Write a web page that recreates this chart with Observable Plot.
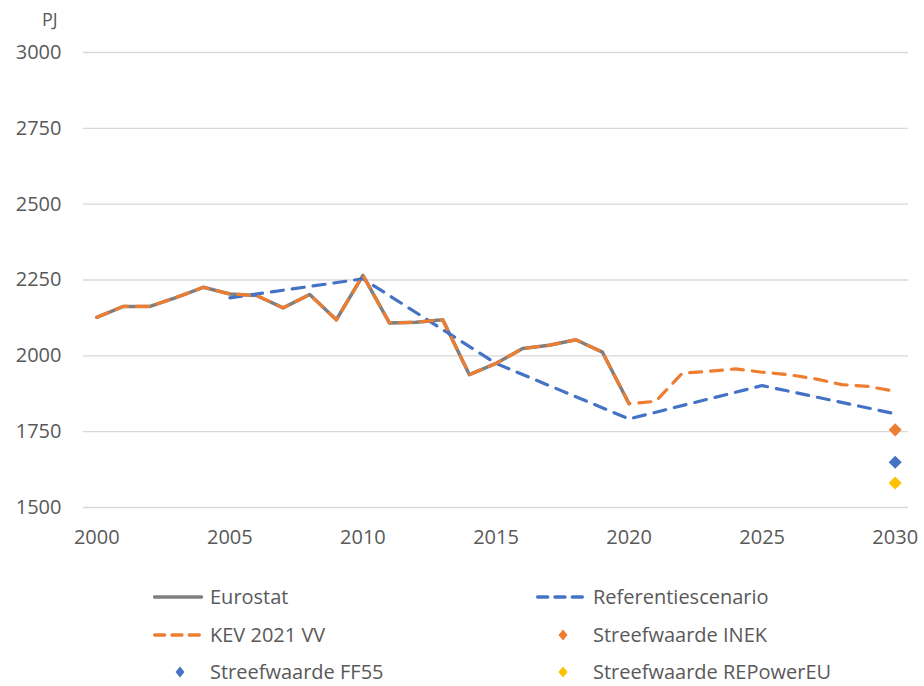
<!DOCTYPE html>
<html>
<head>
<meta charset="utf-8">
<script src="https://cdn.jsdelivr.net/npm/d3@7"></script>
<script src="https://cdn.jsdelivr.net/npm/@observablehq/plot@0.6"></script>
<style>
  body { margin: 0; background: #fff; font-family: "Open Sans", sans-serif; color: #595959; }
  #wrap { position: relative; width: 924px; height: 686px; overflow: hidden; }
  #chart { position: absolute; left: 0; top: 0; }
  #unit { position: absolute; left: 42px; top: 10px; font-size: 18px; line-height: 18px; }
  .item { position: absolute; height: 20px; display: flex; align-items: center; font-size: 20px; line-height: 20px; white-space: nowrap; }
  .item svg { margin-right: 7px; flex: none; }
  .item span { display: inline-block; height: 20px; line-height: 20px; overflow: visible; }
</style>
</head>
<body>
<div id="wrap">
  <div id="chart"></div>
  <div id="unit">PJ</div>
  <div id="legend"></div>
</div>
<script>
// ---- data ----
const histYears = [2000, 2001, 2002, 2003, 2004, 2005, 2006, 2007, 2008, 2009, 2010,
                   2011, 2012, 2013, 2014, 2015, 2016, 2017, 2018, 2019, 2020];
const eurostatValues = [2127, 2163, 2163, 2193, 2226, 2204, 2199, 2158, 2202, 2119, 2265,
                        2108, 2111, 2119, 1938, 1975, 2024, 2035, 2053, 2012, 1842];

const kevYears = [2000, 2001, 2002, 2003, 2004, 2005, 2006, 2007, 2008, 2009, 2010,
                  2011, 2012, 2013, 2014, 2015, 2016, 2017, 2018, 2019, 2020,
                  2021, 2022, 2023, 2024, 2025, 2026, 2027, 2028, 2029, 2030];
const kevValues = [2127, 2163, 2163, 2193, 2226, 2204, 2199, 2158, 2202, 2119, 2265,
                   2108, 2111, 2119, 1938, 1975, 2024, 2035, 2053, 2012, 1842,
                   1850, 1943, 1949, 1957, 1946, 1938, 1924, 1905, 1899, 1883];

const refYears = [2005, 2010, 2015, 2020, 2025, 2030];
const refValues = [2191, 2254, 1975, 1792, 1902, 1809];

const targetYear = 2030;
const targetINEK = 1756;
const targetFF55 = 1649;
const targetREPowerEU = 1581;

const xTicks = [2000, 2005, 2010, 2015, 2020, 2025, 2030];
const yTicks = [1500, 1750, 2000, 2250, 2500, 2750, 3000];

const seriesNames = ["Eurostat", "Referentiescenario", "KEV 2021 VV",
                     "Streefwaarde INEK", "Streefwaarde FF55", "Streefwaarde REPowerEU"];

// ---- colours ----
const cGray = "#7f7f7f", cBlue = "#4472c4", cOrange = "#ed7d31", cYellow = "#ffc000";

// ---- tables ----
const eurostat = histYears.map((year, i) => ({year, value: eurostatValues[i]}));
const kev = kevYears.map((year, i) => ({year, value: kevValues[i]}));
const ref = refYears.map((year, i) => ({year, value: refValues[i]}));

const chart = Plot.plot({
  width: 924,
  height: 560,
  marginTop: 52,
  marginBottom: 53,
  marginLeft: 83,
  marginRight: 16,
  style: {fontFamily: "Open Sans, sans-serif", fontSize: "20px", color: "#595959", background: "transparent", overflow: "visible"},
  x: {domain: [1999.5, 2030.5], ticks: xTicks, tickFormat: d => String(d), tickSize: 0, tickPadding: 22, label: null},
  y: {domain: [1500, 3000], ticks: yTicks, tickFormat: d => String(d), tickSize: 0, tickPadding: 22, label: null},
  marks: [
    Plot.gridY(yTicks, {stroke: "#d9d9d9", strokeOpacity: 1, strokeWidth: 1.3}),
    Plot.line(eurostat, {x: "year", y: "value", stroke: cGray, strokeWidth: 3.5}),
    Plot.line(ref, {x: "year", y: "value", stroke: cBlue, strokeWidth: 3.2, strokeDasharray: "12,9", strokeLinecap: "round"}),
    Plot.line(kev, {x: "year", y: "value", stroke: cOrange, strokeWidth: 3.2, strokeDasharray: "12,9", strokeLinecap: "round"}),
    Plot.dot([{year: targetYear, value: targetINEK}], {x: "year", y: "value", symbol: "diamond2", r: 5.9, fill: cOrange, stroke: "none"}),
    Plot.dot([{year: targetYear, value: targetFF55}], {x: "year", y: "value", symbol: "diamond2", r: 5.9, fill: cBlue, stroke: "none"}),
    Plot.dot([{year: targetYear, value: targetREPowerEU}], {x: "year", y: "value", symbol: "diamond2", r: 5.9, fill: cYellow, stroke: "none"})
  ]
});
document.getElementById("chart").appendChild(chart);

// ---- legend ----
const legendItems = [
  {name: seriesNames[0], kind: "solid", color: cGray, col: 0, row: 0},
  {name: seriesNames[1], kind: "dash", color: cBlue, col: 1, row: 0},
  {name: seriesNames[2], kind: "dash", color: cOrange, col: 0, row: 1},
  {name: seriesNames[3], kind: "diamond", color: cOrange, col: 1, row: 1},
  {name: seriesNames[4], kind: "diamond", color: cBlue, col: 0, row: 2},
  {name: seriesNames[5], kind: "diamond", color: cYellow, col: 1, row: 2}
];
const colLeft = [153, 536];
const rowCenter = [597, 635, 672];
const legend = document.getElementById("legend");
for (const it of legendItems) {
  const div = document.createElement("div");
  div.className = "item";
  div.style.left = colLeft[it.col] + "px";
  div.style.top = (rowCenter[it.row] - 10) + "px";
  let sym;
  if (it.kind === "solid") {
    sym = `<line x1="1.5" y1="10" x2="48.5" y2="10" stroke="${it.color}" stroke-width="3.5" stroke-linecap="round"/>`;
  } else if (it.kind === "dash") {
    sym = `<line x1="1.7" y1="10" x2="48.3" y2="10" stroke="${it.color}" stroke-width="3.4" stroke-linecap="round" stroke-dasharray="10,7.3"/>`;
  } else {
    sym = `<polygon points="27,4.5 31.5,10 27,15.5 22.5,10" fill="${it.color}"/>`;
  }
  div.innerHTML = `<svg width="50" height="20" viewBox="0 0 50 20">${sym}</svg><span>${it.name}</span>`;
  legend.appendChild(div);
}
</script>
</body>
</html>
